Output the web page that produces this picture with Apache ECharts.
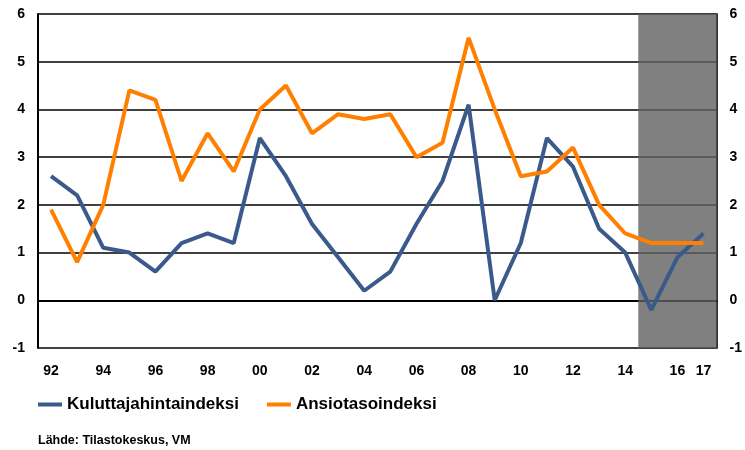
<!DOCTYPE html>
<html>
<head>
<meta charset="utf-8">
<script src="https://cdn.jsdelivr.net/npm/echarts@6/dist/echarts.min.js"></script>
<style>
  html, body { margin: 0; padding: 0; background: #fff; }
  #chart { width: 745px; height: 450px; }
</style>
</head>
<body>
<div id="chart"></div>
<script>
// vuodet 1992-2017
const years = ['92', '93', '94', '95', '96', '97', '98', '99', '00', '01', '02', '03', '04',
  '05', '06', '07', '08', '09', '10', '11', '12', '13', '14', '15', '16', '17'];
const kuluttajahinnat = [2.6, 2.2, 1.1, 1.0, 0.6, 1.2, 1.4, 1.2, 3.4, 2.6, 1.6, 0.9, 0.2,
  0.6, 1.6, 2.5, 4.1, 0.0, 1.2, 3.4, 2.8, 1.5, 1.0, -0.2, 0.9, 1.4];
const ansiotaso = [1.9, 0.8, 2.0, 4.4, 4.2, 2.5, 3.5, 2.7, 4.0, 4.5, 3.5, 3.9, 3.8,
  3.9, 3.0, 3.3, 5.5, 4.0, 2.6, 2.7, 3.2, 2.0, 1.4, 1.2, 1.2, 1.2];
// ennustejakso (harmaa alue), vuosina
const forecastStart = 2014.5;
const forecastEnd = 2017.5;

const font = '"Liberation Sans", Arial, sans-serif';

const chart = echarts.init(document.getElementById('chart'));

const yAxisBase = {
  type: 'value',
  min: -1,
  max: 6,
  interval: 1,
  axisTick: { show: false },
  axisLabel: { color: '#000', fontFamily: font, fontSize: 14, fontWeight: 'bold', margin: 13 }
};

const option = {
  animation: false,
  textStyle: { fontFamily: font },
  title: {
    text: 'Lähde: Tilastokeskus, VM',
    left: 33,
    top: 429,
    textStyle: { fontSize: 12.5, fontWeight: 'bold', color: '#000', fontFamily: font }
  },
  legend: {
    data: ['Kuluttajahintaindeksi', 'Ansiotasoindeksi'],
    left: 33,
    top: 391,
    icon: 'rect',
    itemWidth: 24,
    itemHeight: 4,
    itemGap: 28,
    textStyle: { fontSize: 17, fontWeight: 'bold', color: '#000', fontFamily: font }
  },
  grid: { left: 38, right: 27, top: 14, bottom: 102 },
  xAxis: [{
    type: 'category',
    data: years,
    boundaryGap: true,
    axisLine: { lineStyle: { color: '#000', width: 2 } },
    axisTick: { inside: true, length: 5, interval: 0, lineStyle: { color: '#000', width: 2 } },
    axisLabel: {
      interval: function (i) { return i % 2 === 0 || i === years.length - 1; },
      color: '#000', fontFamily: font, fontSize: 14, fontWeight: 'bold', margin: 16
    }
  }, {
    type: 'value',
    min: 1991.5,
    max: 2017.5,
    show: false
  }],
  yAxis: [Object.assign({}, yAxisBase, {
    position: 'left',
    axisLine: { show: true, lineStyle: { color: '#000', width: 2 } },
    splitLine: { lineStyle: { color: '#000', width: 1.5 } }
  }), Object.assign({}, yAxisBase, {
    position: 'right',
    axisLine: { show: true, lineStyle: { color: '#333', width: 2 } },
    splitLine: { show: false }
  })],
  series: [{
    name: 'ennuste',
    type: 'line',
    xAxisIndex: 1,
    data: [],
    z: 1,
    silent: true,
    markArea: {
      silent: true,
      itemStyle: { color: 'rgba(96,96,96,0.8)' },
      data: [[{ xAxis: forecastStart }, { xAxis: forecastEnd }]]
    }
  }, {
    name: 'Kuluttajahintaindeksi',
    type: 'line',
    data: kuluttajahinnat,
    symbol: 'none',
    z: 3,
    lineStyle: { color: '#3a5a8c', width: 4 },
    itemStyle: { color: '#3a5a8c' }
  }, {
    name: 'Ansiotasoindeksi',
    type: 'line',
    data: ansiotaso,
    symbol: 'none',
    z: 4,
    lineStyle: { color: '#ff8000', width: 4 },
    itemStyle: { color: '#ff8000' }
  }]
};

chart.setOption(option);
</script>
</body>
</html>
